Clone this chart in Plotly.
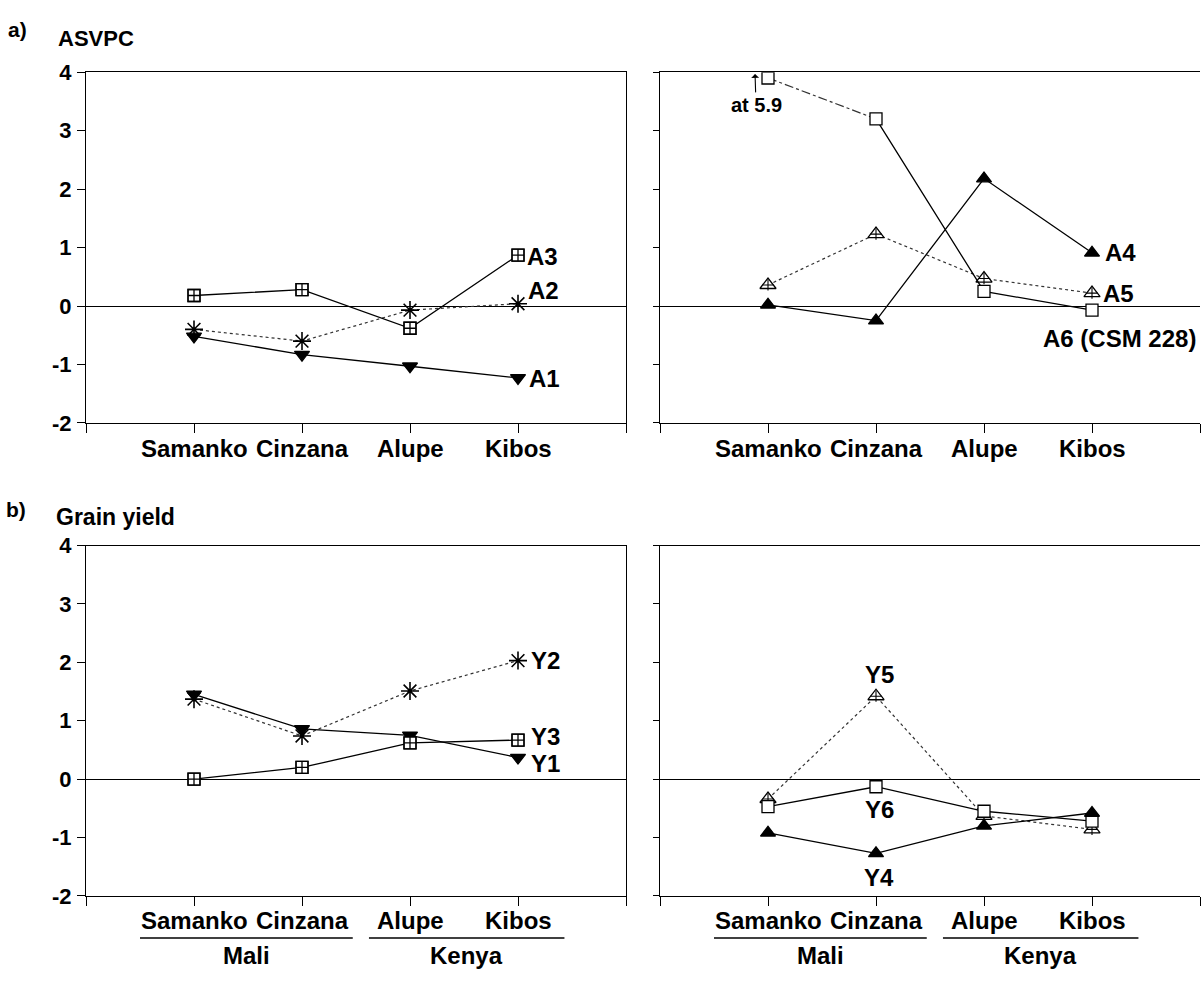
import plotly.graph_objects as go

# ---------------- data ----------------
sites = ["Samanko", "Cinzana", "Alupe", "Kibos"]
countries = ["Mali", "Kenya"]

# a) ASVPC
A1 = [-0.52, -0.83, -1.03, -1.23]
A2 = [-0.40, -0.60, -0.07, 0.04]
A3 = [0.18, 0.28, -0.38, 0.87]
A4 = [0.02, -0.25, 2.18, 0.91]
A5 = [0.36, 1.23, 0.47, 0.22]
A6 = [5.9, 3.20, 0.25, -0.07]   # first value is off scale (shown at the top, "at 5.9")

# b) Grain yield
Y1 = [1.45, 0.86, 0.75, 0.37]
Y2 = [1.37, 0.74, 1.51, 2.03]
Y3 = [0.0, 0.20, 0.62, 0.67]
Y4 = [-0.92, -1.27, -0.80, -0.58]
Y5 = [-0.34, 1.42, -0.63, -0.86]
Y6 = [-0.47, -0.13, -0.55, -0.72]

y_ticks = [-2, -1, 0, 1, 2, 3, 4]
y_ticktext = [str(v) for v in y_ticks]

# ---------------- styling ----------------
FONT = "Liberation Sans"
BLACK = "#000000"
xs = list(range(1, len(sites) + 1))
A6_CAP = 3.9
A6_plot = [min(v, A6_CAP) for v in A6]

fig = go.Figure()


def add_line(x, y, ax, dash="solid", color=BLACK, width=1.3):
    fig.add_trace(go.Scatter(x=x, y=y, mode="lines", xaxis="x" + ax, yaxis="y" + ax,
                             line=dict(color=color, width=width, dash=dash),
                             showlegend=False, hoverinfo="skip"))


def add_markers(x, y, ax, symbol, size=12, fill=BLACK, lw=1.3):
    fig.add_trace(go.Scatter(x=x, y=y, mode="markers", xaxis="x" + ax, yaxis="y" + ax,
                             marker=dict(symbol=symbol, size=size, color=fill,
                                         line=dict(color=BLACK, width=lw)),
                             showlegend=False, hoverinfo="skip"))


def series(y, ax, kind, dash="solid"):
    col = "#333333" if dash != "solid" else BLACK
    add_line(xs, y, ax, dash=dash, color=col, width=1.2 if dash != "solid" else 1.3)
    if kind == "down":
        add_markers(xs, y, ax, "triangle-down", 13)
    elif kind == "up":
        add_markers(xs, y, ax, "triangle-up", 13)
    elif kind == "star":
        add_markers(xs, y, ax, "asterisk-open", 15, lw=1.6)
    elif kind == "sqplus":
        add_markers(xs, y, ax, "square", 12, fill="white")
        add_markers(xs, y, ax, "square-cross-open", 12, fill=BLACK, lw=1.3)
    elif kind == "triplus":
        add_markers(xs, y, ax, "triangle-up", 14, fill="white")
        add_markers(xs, y, ax, "cross-thin-open", 8, fill=BLACK, lw=1.1)
    elif kind == "square":
        add_markers(xs, y, ax, "square", 12, fill="white")


# panel a left
series(A2, "", "star", dash="dot")
series(A1, "", "down")
series(A3, "", "sqplus")
# panel a right
series(A5, "2", "triplus", dash="dot")
add_line(xs[:2], A6_plot[:2], "2", dash="dashdot", color="#333333", width=1.2)
add_line(xs[1:], A6_plot[1:], "2")
add_markers(xs, A6_plot, "2", "square", 12, fill="white")
series(A4, "2", "up")
# panel b left
series(Y2, "3", "star", dash="dot")
series(Y1, "3", "down")
series(Y3, "3", "sqplus")
# panel b right
series(Y5, "4", "triplus", dash="dot")
series(Y6, "4", "square")
series(Y4, "4", "up")

# ---------------- axes ----------------
W, H = 1202, 983
xl = [86 / W, 626 / W]
xr = [660 / W, 1200 / W]
yt = [1 - 421.7 / H, 1 - 61.7 / H]
yb = [1 - 907 / H, 1 - 547.5 / H]

tickfont = dict(family=FONT, size=22, color=BLACK, weight="bold")
catfont = dict(family=FONT, size=24, color=BLACK, weight="bold")


def xaxis(domain, anchor):
    return dict(domain=domain, anchor=anchor, range=[0, 5], showgrid=False, zeroline=False,
                showline=True, linecolor=BLACK, linewidth=1.3, mirror=True,
                ticks="outside", ticklen=9, tickwidth=1.2, tickcolor=BLACK,
                tickvals=[0] + xs + [5], showticklabels=False, fixedrange=True)


def yaxis(domain, anchor, labels, mirror):
    return dict(domain=domain, anchor=anchor, range=[-2, 4], showgrid=False,
                zeroline=True, zerolinecolor=BLACK, zerolinewidth=1.2,
                showline=True, linecolor=BLACK, linewidth=1.3, mirror=mirror,
                ticks="outside", ticklen=8 if labels else 6, tickwidth=1.2, tickcolor=BLACK,
                tickvals=y_ticks, ticktext=y_ticktext, showticklabels=labels,
                tickfont=tickfont, ticklabelstandoff=1, fixedrange=True)


fig.update_layout(
    width=W, height=H, margin=dict(l=0, r=0, t=0, b=0),
    paper_bgcolor="white", plot_bgcolor="white",
    font=dict(family=FONT, color=BLACK),
    xaxis=xaxis(xl, "y"), yaxis=yaxis(yt, "x", True, True),
    xaxis2=xaxis(xr, "y2"), yaxis2=yaxis(yt, "x2", False, False),
    xaxis3=xaxis(xl, "y3"), yaxis3=yaxis(yb, "x3", True, True),
    xaxis4=xaxis(xr, "y4"), yaxis4=yaxis(yb, "x4", False, False),
)

ann = []
lab = dict(family=FONT, size=24, color=BLACK, weight="bold")


def label(text, ax, x, y, xanchor="left", xshift=0, yshift=0):
    ann.append(dict(text=text, x=x, y=y, xref="x" + ax, yref="y" + ax,
                    xanchor=xanchor, yanchor="middle", xshift=xshift, yshift=yshift,
                    showarrow=False, font=lab))


k = xs[-1]
c = xs[1]
label("A3", "", k, A3[-1], xshift=7, yshift=-1)
label("A2", "", k, A2[-1], xshift=8, yshift=13)
label("A1", "", k, A1[-1], xshift=9, yshift=-1)
label("A4", "2", k, A4[-1], xshift=11, yshift=0)
label("A5", "2", k, A5[-1], xshift=9, yshift=0)
label("A6 (CSM 228)", "2", k, A6_plot[-1], xanchor="right", xshift=106, yshift=-28)
label("Y2", "3", k, Y2[-1], xshift=11, yshift=0)
label("Y3", "3", k, Y3[-1], xshift=11, yshift=4)
label("Y1", "3", k, Y1[-1], xshift=11, yshift=-6)
label("Y5", "4", c, Y5[1], xanchor="center", xshift=3, yshift=22)
label("Y6", "4", c, Y6[1], xanchor="center", xshift=3, yshift=-23)
label("Y4", "4", c, Y4[1], xanchor="center", xshift=3, yshift=-24)

# category labels under every panel
for ax, ysh in (("", -26), ("2", -26), ("3", -25), ("4", -25)):
    for i, s in enumerate(sites):
        ann.append(dict(text=s, x=xs[i], y=0, xref="x" + ax, yref=f"y{ax} domain",
                        xanchor="center", yanchor="middle", yshift=ysh,
                        showarrow=False, font=catfont))

# off-scale note for A6 at Samanko
ann.append(dict(text=f"at {A6[0]}", x=xs[0] - 0.12, y=A6_CAP + 0.07, xref="x2", yref="y2",
                showarrow=True, ax=1, ay=31, arrowhead=1, arrowsize=1.2, arrowwidth=1.1,
                arrowcolor=BLACK, standoff=0,
                font=dict(family=FONT, size=20, color=BLACK, weight="bold")))

# panel titles
for txt, x, y, sz, wt in [("a)", 6, 18, 21, "bold"), ("ASVPC", 56, 27, 22, "bold"),
                          ("b)", 4, 510, 21, "bold"), ("Grain yield", 54, 518, 23, "bold")]:
    ann.append(dict(text=txt, x=x / W, y=1 - y / H, xref="paper", yref="paper",
                    xanchor="left", yanchor="middle", showarrow=False,
                    font=dict(family=FONT, size=sz, color=BLACK, weight=wt)))

# country groups under bottom panels
groups = [(countries[0], 0.5, 2.47), (countries[1], 2.62, 4.43)]
shapes = []
for ax in ("3", "4"):
    for name, g0, g1 in groups:
        shapes.append(dict(type="line", xref="x" + ax, yref=f"y{ax} domain",
                           x0=g0, x1=g1, y0=-0.12, y1=-0.12,
                           line=dict(color=BLACK, width=1.3)))
        ann.append(dict(text=name, x=(g0 + g1) / 2, y=0, xref="x" + ax,
                        yref=f"y{ax} domain", yanchor="middle", yshift=-60,
                        showarrow=False, font=catfont))

fig.update_layout(annotations=ann, shapes=shapes)
fig.write_html(
    "out.html",
    config={"displayModeBar": False},
    post_script="document.body.style.margin='0';document.body.style.overflow='hidden';"
                "document.documentElement.style.overflow='hidden';",
)
